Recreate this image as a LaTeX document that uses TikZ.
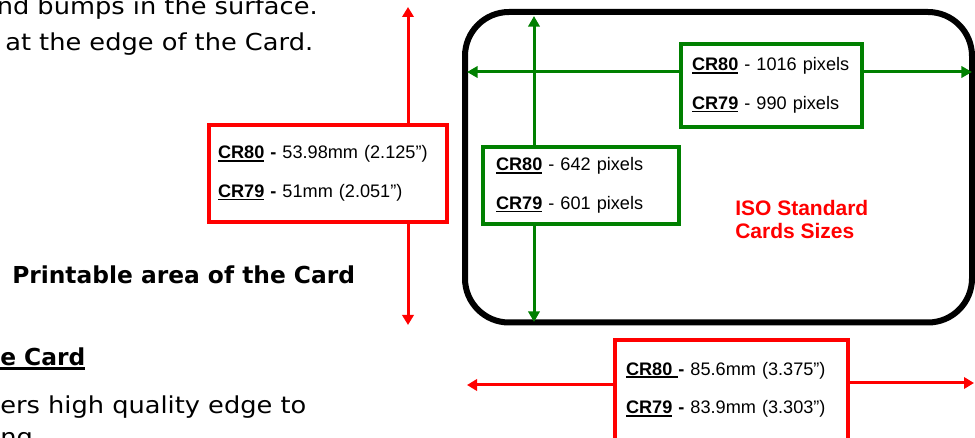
\documentclass[tikz,border=0pt]{standalone}
\usepackage{fontspec}
\setmainfont{Liberation Sans}
\newfontfamily\tahoma[FakeStretch=1.1]{DejaVu Sans}
\newfontfamily\tahomabold{DejaVu Sans}
\usetikzlibrary{arrows.meta}
\definecolor{cardred}{RGB}{255,0,0}
\definecolor{cardgreen}{RGB}{0,128,0}
% underline with a rule of own depth and thickness
\newcommand{\ulabel}[3]{\leavevmode{\setbox0\hbox{#3}\rlap{\rule[-#1]{\wd0}{#2}}\box0}}
\newcommand{\crlabel}[1]{\ulabel{2pt}{1.2pt}{\textbf{#1}}}

\begin{document}
\begin{tikzpicture}[x=0.75pt, y=-0.75pt,
    bodytext/.style={anchor=base west, inner sep=0pt, font=\tahoma\fontsize{17.5pt}{21pt}\selectfont},
    headtext/.style={anchor=base west, inner sep=0pt, font=\tahomabold\bfseries\fontsize{17.5pt}{21pt}\selectfont},
    dimbox/.style={draw, line width=3pt, fill=white, align=left, inner ysep=0pt, text=black,
        font=\fontsize{13.6pt}{28.9pt}\selectfont},
    redbox/.style={dimbox, draw=cardred},
    greenbox/.style={dimbox, draw=cardgreen},
    redarrow/.style={draw=cardred, line width=2.25pt, -{Triangle[width=8.5pt, length=7.5pt]}},
    greenarrow/.style={draw=cardgreen, line width=2.25pt, -{Triangle[width=8.5pt, length=8pt]}}]
    \useasboundingbox (0,0) rectangle (975,438);

    % Text beside the picture
    \node[bodytext, anchor=base east] (surface) at (318,15) {nd bumps in the surface.};
    \node[bodytext] (edge) at (5,51) {at the edge of the Card.};
    \node[headtext] (printable) at (12,284) {Printable area of the Card};
    \node[headtext] (cardhead) at (0,366) {\ulabel{3pt}{2.2pt}{e Card}};
    \node[bodytext] (quality) at (0,413) {ers high quality edge to};
    \node[bodytext] (ngline) at (0,445) {ng};

    % Card outline
    \draw[line width=4.5pt, rounded corners=33pt] (465,12) rectangle (972,322.5);

    % Arrow tips
    \coordinate (htop) at (408,7);
    \coordinate (hbot) at (408,325);
    \coordinate (pxleft) at (467,72);
    \coordinate (pxright) at (972,72);
    \coordinate (pytop) at (534,16);
    \coordinate (pybot) at (534,322);
    \coordinate (wleft) at (467,385);
    \coordinate (wright) at (974,383);

    % Size boxes
    \node[redbox, minimum height=72.75pt, text width=165pt, inner xsep=6.75pt] (hbox) at (328,173.5)
        {\mbox{\crlabel{CR80}\textbf{ -} 53.98mm (2.125”)}\\\mbox{\crlabel{CR79}\textbf{ -} 51mm (2.051”)}};
    \node[greenbox, minimum height=62.25pt, text width=119.25pt, inner xsep=8.25pt] (pxbox) at (771.5,85.5)
        {\mbox{\crlabel{CR80} - 1016 pixels}\\\mbox{\crlabel{CR79} - 990 pixels}};
    \node[greenbox, minimum height=57.75pt, text width=127.5pt, inner xsep=9.75pt] (pybox) at (581,185.5)
        {\mbox{\crlabel{CR80} - 642 pixels}\\\mbox{\crlabel{CR79} - 601 pixels}};
    \node[redbox, minimum height=75pt, text width=158.25pt, inner xsep=8.25pt] (wbox) at (731.5,390)
        {\mbox{\crlabel{CR80 }\textbf{-} 85.6mm (3.375”)}\\\mbox{\crlabel{CR79}\textbf{ -} 83.9mm (3.303”)}};

    % Dimension arrows
    \draw[redarrow] (hbox.north -| htop) -- (htop);
    \draw[redarrow] (hbox.south -| hbot) -- (hbot);
    \draw[greenarrow] (pxbox.west |- pxleft) -- (pxleft);
    \draw[greenarrow] (pxbox.east |- pxright) -- (pxright);
    \draw[greenarrow] (pybox.north -| pytop) -- (pytop);
    \draw[greenarrow] (pybox.south -| pybot) -- (pybot);
    \draw[redarrow] (wbox.west |- wleft) -- (wleft);
    \draw[redarrow] (wbox.east |- wright) -- (wright);

    \node[anchor=west, inner sep=0pt, align=left, text=cardred,
        font=\bfseries\fontsize{15.75pt}{17.25pt}\selectfont] (iso) at (735,219.9) {ISO Standard\\Cards Sizes};
\end{tikzpicture}
\end{document}
